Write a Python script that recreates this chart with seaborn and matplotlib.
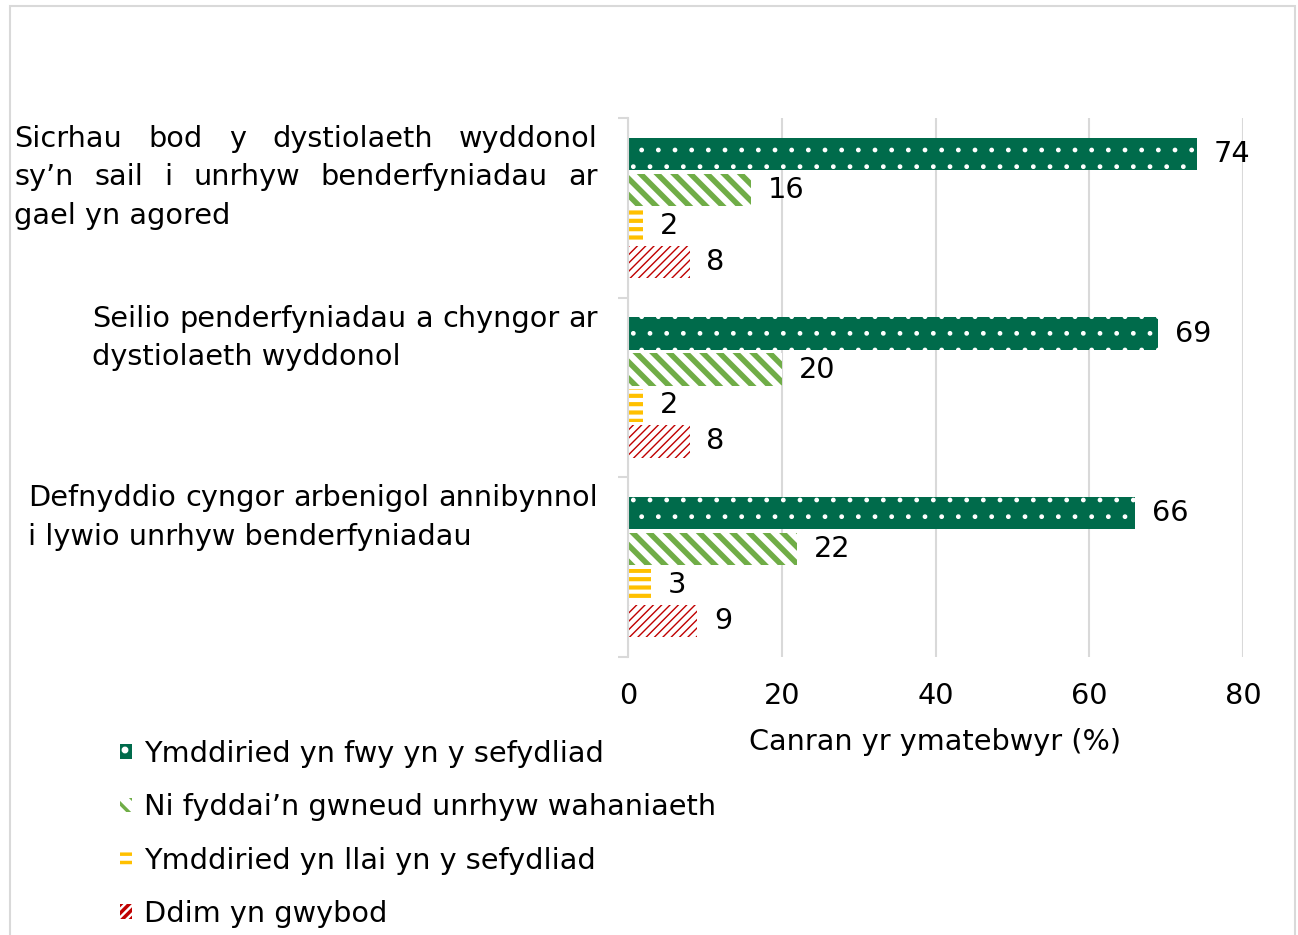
import pandas as pd
import seaborn as sns
import matplotlib.pyplot as plt
from matplotlib.patches import Rectangle
from matplotlib.transforms import blended_transform_factory

# Data
categories = ["Sicrhau", "Seilio", "Defnyddio"]
category_lines = [
    ["Sicrhau bod y dystiolaeth wyddonol", "sy’n sail i unrhyw benderfyniadau ar", "gael yn agored"],
    ["Seilio penderfyniadau a chyngor ar", "dystiolaeth wyddonol"],
    ["Defnyddio cyngor arbenigol annibynnol", "i lywio unrhyw benderfyniadau"],
]
series = ["Ymddiried yn fwy yn y sefydliad", "Ni fyddai’n gwneud unrhyw wahaniaeth",
          "Ymddiried yn llai yn y sefydliad", "Ddim yn gwybod"]
more = [74, 69, 66]
no_diff = [16, 20, 22]
less = [2, 2, 3]
dont_know = [8, 8, 9]

colors = ["#006B4B", "#70AD47", "#FFC000", "#C00000"]
hatches = [".", "\\\\", "--", "////"]
hatch_lw = [1.0, 4.0, 3.0, 1.0]

rows = []
for s, vals in zip(series, [more, no_diff, less, dont_know]):
    for c, v in zip(categories, vals):
        rows.append({"category": c, "series": s, "value": v})
df = pd.DataFrame(rows)

sns.set_theme(style="white")
FS = 20.7
plt.rcParams["font.family"] = ["DejaVu Sans"]
plt.rcParams["text.color"] = "black"
plt.rcParams["axes.labelcolor"] = "black"
plt.rcParams["hatch.linewidth"] = 2.5

W, H = 1298, 935
fig = plt.figure(figsize=(W / 100, H / 100), dpi=100)
ax = fig.add_axes([628 / W, 1 - 657 / H, 615 / W, 539 / H])

sns.barplot(data=df, y="category", x="value", hue="series", orient="h",
            palette=colors, gap=0.1, width=0.8, legend=False, ax=ax, saturation=1)

for i, cont in enumerate(ax.containers):
    for p in cont.patches:
        if i == 0:
            p.set_facecolor(colors[0])
            p.set_edgecolor("white")
        else:
            p.set_facecolor("white")
            p.set_edgecolor(colors[i])
        p.set_linewidth(0)
        p.set_hatch(hatches[i])
        if hasattr(p, "set_hatch_linewidth"):
            p.set_hatch_linewidth(hatch_lw[i])
    ax.bar_label(cont, padding=12, fontsize=FS, color="black")

ax.set_xlim(0, 80)
ax.set_ylim(2.5, -0.5)
ax.set_xticks([0, 20, 40, 60, 80])
ax.tick_params(axis="x", length=0, pad=18, labelsize=FS, colors="black")
ax.xaxis.grid(True, color="#D9D9D9", linewidth=1.5)
ax.set_axisbelow(True)
ax.set_xlabel("Canran yr ymatebwyr (%)", fontsize=FS, labelpad=13, color="black")
ax.set_ylabel("")
ax.set_yticks([0, 1, 2])
ax.set_yticklabels([])
ax.tick_params(axis="y", which="major", length=0)
ax.set_yticks([-0.5, 0.5, 1.5, 2.5], minor=True)
ax.tick_params(axis="y", which="minor", left=True, length=7, width=1.5, color="#D9D9D9")
for sp in ["top", "right", "bottom"]:
    ax.spines[sp].set_visible(False)
ax.spines["left"].set_color("#D9D9D9")
ax.spines["left"].set_linewidth(1.5)

# Category labels, justified block to the left of the axis
fig.canvas.draw()
r = fig.canvas.get_renderer()


def text_w(s):
    t = fig.text(0, 0, s, fontsize=FS)
    w = t.get_window_extent(r).width
    t.remove()
    return w


trans = blended_transform_factory(fig.transFigure, ax.transData)
right_px = 598
block_widths = [584, None, None]
for k, lines in enumerate(category_lines):
    bw = block_widths[k] or max(text_w(l) for l in lines)
    left_px = right_px - bw
    for i, line in enumerate(lines):
        y = k - 0.5 + (21 + i * 38.5) / 180
        last = i == len(lines) - 1
        words = line.split(" ")
        if last or len(words) == 1:
            ax.text(left_px / W, y, line, transform=trans, fontsize=FS,
                    ha="left", va="center", color="black")
        else:
            ws = [text_w(wd) for wd in words]
            gap = (bw - sum(ws)) / (len(words) - 1)
            x = left_px
            for wd, w in zip(words, ws):
                ax.text(x / W, y, wd, transform=trans, fontsize=FS,
                        ha="left", va="center", color="black")
                x += w + gap

fig.legend(ax.containers, series, loc="upper left",
           bbox_to_anchor=(120 / W, 1 - 740 / H), frameon=False, fontsize=FS,
           handlelength=0.42, handleheight=0.42, handletextpad=0.4,
           labelspacing=0.88, borderpad=0, borderaxespad=0)

fig.add_artist(Rectangle((10 / W, -0.02), 1285 / W, 1 - 6 / H + 0.02,
                         transform=fig.transFigure, fill=False,
                         edgecolor="#D9D9D9", linewidth=1.5))

fig.savefig("out.png", dpi=100)
